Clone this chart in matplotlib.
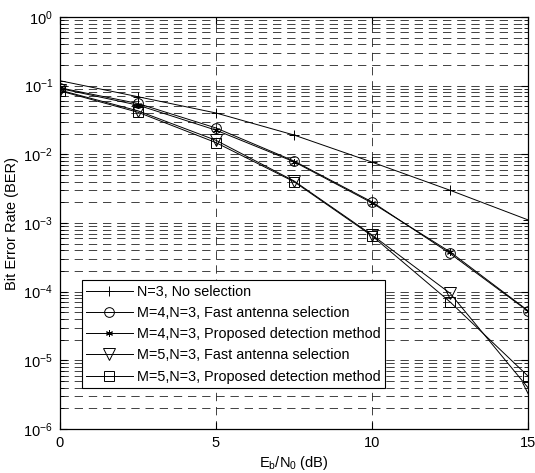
import matplotlib
matplotlib.use("Agg")
import matplotlib.pyplot as plt
import numpy as np
from matplotlib.ticker import LogFormatterSciNotation, NullFormatter, FixedLocator

plt.rcParams['font.family'] = ['Liberation Sans', 'DejaVu Sans']
plt.rcParams['mathtext.fontset'] = 'custom'
plt.rcParams['mathtext.rm'] = 'Liberation Sans'
plt.rcParams['mathtext.it'] = 'Liberation Sans'

snr = [0, 2.5, 5, 7.5, 10, 12.5, 15]
ber_nosel = [0.118, 0.069, 0.040, 0.0191, 0.0077, 0.0030, 0.00111]
ber_m4_fast = [0.093, 0.055, 0.0242, 0.0080, 0.00203, 0.00036, 5.2e-5]
ber_m4_prop = [0.091, 0.052, 0.0225, 0.0078, 0.00196, 0.00038, 5.3e-5]
ber_m5_fast = [0.086, 0.043, 0.0160, 0.0041, 0.00067, 9.5e-5, 4.0e-6]
ber_m5_prop = [0.084, 0.041, 0.0148, 0.0040, 0.00065, 7.1e-5, 5.9e-6]

labels = ['N=3, No selection',
          'M=4,N=3, Fast antenna selection',
          'M=4,N=3, Proposed detection method',
          'M=5,N=3, Fast antenna selection',
          'M=5,N=3, Proposed detection method']
xticks = [0, 5, 10, 15]
ytick_exps = [-6, -5, -4, -3, -2, -1, 0]

fig = plt.figure(figsize=(5.35, 4.73), dpi=100)
ax = fig.add_axes([60/535, 1 - 429/473, 468/535, 412/473])

ax.set_yscale('log')
ax.set_xlim(0, 15)
ax.set_ylim(1e-6, 1)

lw = 0.7
ms = 7
ax.plot(snr, ber_nosel, color='k', lw=lw, marker='+', ms=ms, mew=0.7, label=labels[0])
ax.plot(snr, ber_m4_fast, color='k', lw=lw, marker='o', ms=ms, mfc='none', mew=0.7, label=labels[1])
ax.plot(snr, ber_m4_prop, color='k', lw=lw, marker=(6, 2, 0), ms=5, mew=0.7, label=labels[2])
ax.plot(snr, ber_m5_fast, color='k', lw=lw, marker='v', ms=ms + 1, mfc='none', mew=0.7, label=labels[3])
ax.plot(snr, ber_m5_prop, color='k', lw=lw, marker='s', ms=ms, mfc='none', mew=0.7, label=labels[4])

major_y = [10.0 ** e for e in ytick_exps]
minor_y = [m * 10.0 ** e for e in ytick_exps[:-1] for m in range(2, 10)]
ax.xaxis.set_major_locator(FixedLocator(xticks))
ax.yaxis.set_major_locator(FixedLocator(major_y))
ax.yaxis.set_major_formatter(LogFormatterSciNotation())
ax.yaxis.set_minor_locator(FixedLocator(minor_y))
ax.yaxis.set_minor_formatter(NullFormatter())

grid_style = dict(color='#222222', linestyle=(0, (10, 7)), linewidth=0.6)
ax.grid(True, which='major', axis='both', **grid_style)
ax.grid(True, which='minor', axis='y', **grid_style)
ax.set_axisbelow(True)

ax.tick_params(which='both', direction='in', top=True, right=True, labelsize=10.5)
ax.tick_params(which='major', length=5, width=0.8, pad=5)
ax.tick_params(which='minor', length=3, width=0.6)
for s in ax.spines.values():
    s.set_linewidth(0.9)

ax.set_xlabel(r'E$_\mathregular{b}$/N$_\mathregular{0}$ (dB)', fontsize=10.5, labelpad=3)
ax.set_ylabel('Bit Error Rate (BER)', fontsize=10.5, labelpad=3)

leg = ax.legend(loc='lower left', bbox_to_anchor=(22/468, (429 - 388)/412),
                fontsize=10.4, frameon=True, fancybox=False, framealpha=1,
                edgecolor='k', borderpad=0.3, labelspacing=0.5,
                handlelength=3.2, handletextpad=0.3, borderaxespad=0)
leg.get_frame().set_linewidth(0.8)

fig.savefig('out.png', dpi=100)
